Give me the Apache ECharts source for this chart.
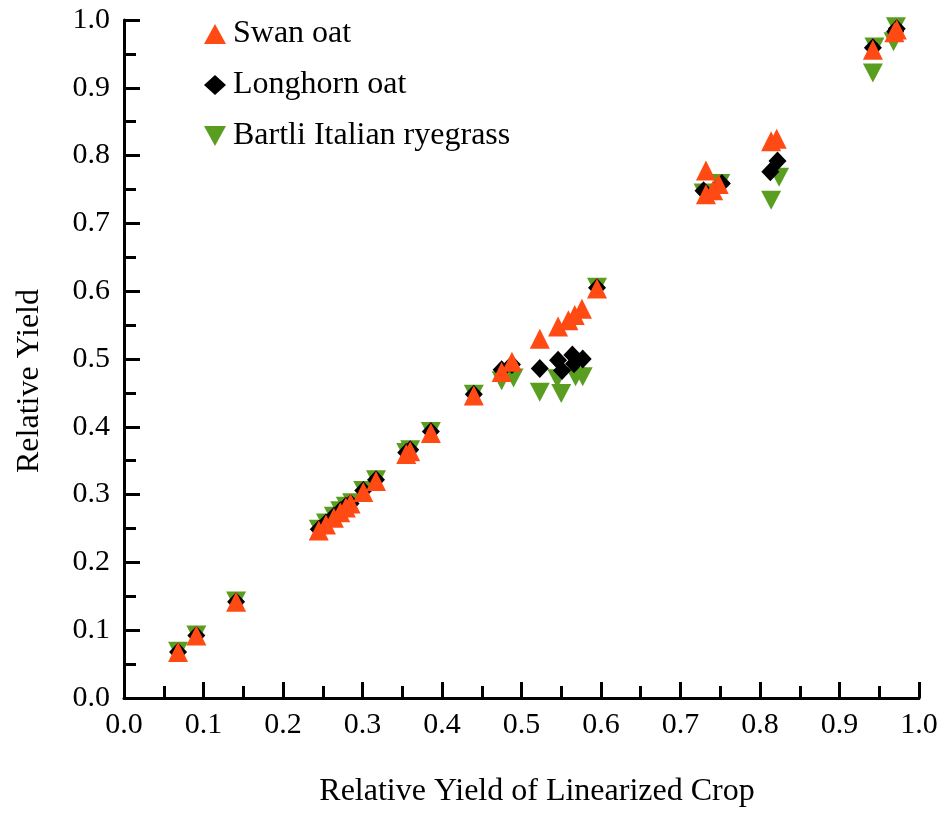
<!DOCTYPE html>
<html>
<head>
<meta charset="utf-8">
<script src="https://cdn.jsdelivr.net/npm/echarts@6/dist/echarts.min.js"></script>
<style>
  html, body { margin: 0; padding: 0; background: #fff; }
  #chart { width: 944px; height: 814px; }
</style>
</head>
<body>
<div id="chart"></div>
<script>
// Relative yield of each species against the linearized crop, [x, y] pairs
const swanOat = [
  [0.068, 0.068], [0.091, 0.092], [0.141, 0.142], [0.245, 0.247], [0.254, 0.256],
  [0.264, 0.266], [0.272, 0.274], [0.279, 0.281], [0.285, 0.287], [0.301, 0.304],
  [0.317, 0.320], [0.355, 0.360], [0.360, 0.364], [0.386, 0.391], [0.440, 0.446],
  [0.475, 0.481], [0.488, 0.496], [0.523, 0.530], [0.546, 0.548], [0.559, 0.557],
  [0.567, 0.565], [0.576, 0.574], [0.595, 0.604], [0.732, 0.778], [0.732, 0.743],
  [0.741, 0.749], [0.748, 0.758], [0.814, 0.821], [0.821, 0.825], [0.942, 0.956],
  [0.969, 0.982], [0.972, 0.986]
];
const longhornOat = [
  [0.068, 0.068], [0.091, 0.092], [0.141, 0.142], [0.245, 0.249], [0.254, 0.258],
  [0.264, 0.268], [0.272, 0.276], [0.279, 0.283], [0.285, 0.287], [0.301, 0.306],
  [0.317, 0.322], [0.355, 0.362], [0.360, 0.366], [0.386, 0.393], [0.440, 0.448],
  [0.475, 0.484], [0.488, 0.492], [0.523, 0.486], [0.546, 0.498], [0.551, 0.483],
  [0.564, 0.506], [0.566, 0.493], [0.577, 0.500], [0.595, 0.605], [0.729, 0.748],
  [0.752, 0.759], [0.813, 0.776], [0.822, 0.792], [0.942, 0.959], [0.970, 0.983],
  [0.972, 0.987]
];
const bartliRyegrass = [
  [0.068, 0.069], [0.091, 0.093], [0.141, 0.143], [0.245, 0.249], [0.254, 0.258],
  [0.264, 0.268], [0.272, 0.276], [0.279, 0.283], [0.287, 0.288], [0.301, 0.306],
  [0.317, 0.322], [0.355, 0.362], [0.360, 0.366], [0.386, 0.393], [0.440, 0.448],
  [0.475, 0.468], [0.490, 0.472], [0.523, 0.451], [0.545, 0.471], [0.550, 0.449],
  [0.568, 0.474], [0.577, 0.474], [0.595, 0.606], [0.729, 0.745], [0.750, 0.759],
  [0.814, 0.734], [0.824, 0.768], [0.942, 0.922], [0.944, 0.960], [0.968, 0.968],
  [0.971, 0.990]
];

const seriesNames = ['Swan oat', 'Longhorn oat', 'Bartli Italian ryegrass'];
const xAxisTitle = 'Relative Yield of Linearized Crop';
const yAxisTitle = 'Relative Yield';

const FONT = 'Liberation Serif';
const DOWN_TRIANGLE = 'path://M0,0 L2,0 L1,1.8 Z';
const chart = echarts.init(document.getElementById('chart'), null, { renderer: 'canvas' });

const axisCommon = {
  type: 'value', min: 0, max: 1, interval: 0.1,
  axisLine: { show: true, lineStyle: { color: '#000', width: 3 } },
  axisTick: { show: true, inside: true, length: 16, lineStyle: { color: '#000', width: 3 } },
  minorTick: { show: true, splitNumber: 2, length: 12, lineStyle: { color: '#000', width: 3 } },
  splitLine: { show: false },
  axisLabel: {
    color: '#000', fontFamily: FONT, fontSize: 30,
    formatter: v => v.toFixed(1)
  }
};

chart.setOption({
  animation: false,
  backgroundColor: '#fff',
  grid: { left: 124, right: 25, top: 20, bottom: 116 },
  xAxis: Object.assign({}, axisCommon, {
    axisLabel: Object.assign({}, axisCommon.axisLabel, { margin: 12 })
  }),
  yAxis: Object.assign({}, axisCommon, {
    axisLabel: Object.assign({}, axisCommon.axisLabel, { margin: 14 })
  }),
  legend: {
    data: [
      { name: seriesNames[0], icon: 'triangle' },
      { name: seriesNames[1], icon: 'diamond' },
      { name: seriesNames[2], icon: DOWN_TRIANGLE }
    ],
    orient: 'vertical',
    left: 199, top: 13,
    itemWidth: 22, itemHeight: 20, itemGap: 19,
    textStyle: { fontFamily: FONT, fontSize: 32, color: '#000', padding: [0, 0, 0, 2] }
  },
  graphic: [
    {
      type: 'text', x: 537, y: 792,
      style: {
        text: xAxisTitle, fontFamily: FONT, fontSize: 32, fill: '#000',
        align: 'center', verticalAlign: 'middle'
      }
    },
    {
      type: 'text', x: 30, y: 381, rotation: Math.PI / 2,
      style: {
        text: yAxisTitle, fontFamily: FONT, fontSize: 32, fill: '#000',
        align: 'center', verticalAlign: 'middle'
      }
    }
  ],
  series: [
    {
      name: seriesNames[2], type: 'scatter', data: bartliRyegrass,
      symbol: 'triangle', symbolRotate: 180, symbolSize: [20, 19],
      itemStyle: { color: '#5a9e21', opacity: 1 }
    },
    {
      name: seriesNames[1], type: 'scatter', data: longhornOat,
      symbol: 'diamond', symbolSize: [18, 19],
      itemStyle: { color: '#000', opacity: 1 }
    },
    {
      name: seriesNames[0], type: 'scatter', data: swanOat,
      symbol: 'triangle', symbolSize: [20, 20],
      itemStyle: { color: '#ff4a14', opacity: 1 }
    }
  ]
});
</script>
</body>
</html>
